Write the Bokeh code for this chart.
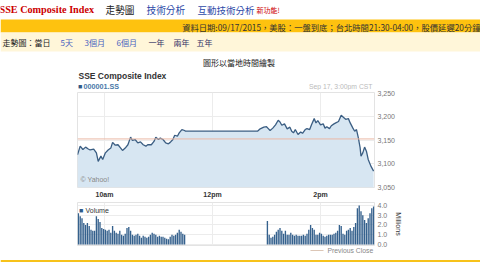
from bokeh.plotting import figure
from bokeh.models import (Range1d, Label, BoxAnnotation, Span, FixedTicker,
                          NumeralTickFormatter, ColumnDataSource)
from bokeh.embed import file_html
from bokeh.resources import INLINE

# ---------------- data ----------------
price_times = ["09:30","09:33","09:36","09:39","09:42","09:44","09:48","09:51","09:53","09:56",
               "09:58","10:01","10:04","10:07","10:09","10:12","10:15","10:18","10:20","10:23",
               "10:26","10:29","10:31","10:34","10:37","10:40","10:43","10:46","10:48","10:52",
               "10:55","10:57","11:00","11:02","11:05","11:08","11:11","11:13","11:16","11:18",
               "11:21","11:23","11:26","11:29","11:30",
               "12:50","12:53","12:57","13:00","13:02","13:04","13:07","13:10","13:13","13:15",
               "13:17","13:20","13:23","13:26","13:28","13:30","13:32","13:35","13:38","13:40",
               "13:43","13:45","13:48","13:50","13:53","13:55","13:57","14:00","14:03","14:05",
               "14:07","14:10","14:12","14:15","14:17","14:20","14:23","14:26","14:28","14:31",
               "14:33","14:36","14:38","14:40","14:42","14:44","14:45","14:47","14:49","14:51",
               "14:53","14:56","14:59"]
price_values = [3119,3137,3130,3135,3131,3129,3131,3123,3105,3116,
                3109,3123,3129,3133,3145,3139,3140,3133,3128,3133,
                3140,3156,3149,3151,3144,3146,3140,3137,3140,3140,
                3147,3156,3151,3154,3151,3144,3142,3145,3151,3160,
                3158,3165,3172,3170,3168.5,
                3168.5,3173.5,3177,3178,3174,3170,3175,3182,3191.6,3188,
                3181,3184,3173.5,3177,3168.5,3165,3172,3161.5,3167,3164,
                3172,3174,3172,3182,3195,3186,3191,3182,3184,3175,
                3178,3174,3180,3184,3186,3189,3202,3197,3193.5,3195,
                3186,3175,3168.5,3172,3155,3134,3116,3123,3135,3126.5,
                3109,3095,3084.5]
previous_close = 3152.26

vol_am = [3.2,2.9,2.7,2.2,2.0,2.2,1.9,1.5,1.4,1.4,2.9,2.6,2.3,1.7,1.6,1.5,1.4,1.5,1.2,1.9,
          1.4,1.2,1.1,1.4,1.0,0.9,1.1,1.7,1.8,1.4,1.0,0.9,1.0,1.1,0.9,0.7,0.9,0.8,0.7,0.8,
          1.0,1.2,1.1,1.0,0.8,0.9,0.8,0.8,0.7,0.6,0.55,0.8,1.0,0.9,1.0,1.2,1.5,1.3,1.1,1.0]
vol_pm = [2.4,1.0,0.7,0.8,1.0,1.3,1.5,1.7,1.4,1.1,1.4,1.0,1.0,1.2,1.0,0.9,1.0,0.9,0.9,0.9,
          1.0,0.9,1.1,1.5,2.0,1.7,1.5,1.0,1.0,1.2,1.1,0.9,0.8,0.9,1.0,1.0,1.0,1.1,1.2,1.4,
          2.0,1.9,1.1,1.0,1.4,1.5,1.7,1.4,1.8,2.2,3.7,4.0,3.4,3.0,2.5,2.2,2.7,3.2,3.7,3.9]

x_ticks = [600, 720, 840]
x_tick_labels = ["10am", "12pm", "2pm"]
price_ticks = [3050, 3100, 3150, 3200, 3250]
vol_ticks = [0, 1, 2, 3, 4]

def to_min(s):
    h, m = s.split(":")
    return int(h) * 60 + int(m)

px = [to_min(t) for t in price_times]
vol_x = [570 + 2 * i + 1 for i in range(len(vol_am))] + [780 + 2 * i + 1 for i in range(len(vol_pm))]
vol_v = vol_am + vol_pm

SANS = "Liberation Sans"
CJK = "Noto Sans CJK TC"
BLUE_LINK = "#2d4aa8"
FL, FR = 77, 374            # chart frame left / right in page pixels
BL, BR = FL, 480 - FR

def t_of_page(xp):           # page x -> minutes (for placing decorations inside the chart panels)
    return 570 + (xp - FL) * 330.0 / (FR - FL)

def bare(fig):
    fig.axis.visible = False
    fig.grid.visible = False
    fig.outline_line_color = None
    return fig

def lab(fig, x, y, text, size="7px", color="#333333", font=SANS, style="normal", align="left"):
    fig.add_layout(Label(x=x, y=y, text=text, text_font=font, text_font_size=size,
                         text_color=color, text_font_style=style, text_baseline="middle",
                         text_align=align))

def quiet_axis(ax):
    ax.axis_line_color = None
    ax.major_tick_line_color = None
    ax.minor_tick_line_color = None
    ax.major_tick_out = 0
    ax.major_tick_in = 0
    ax.minor_tick_out = 0
    ax.minor_tick_in = 0
    ax.major_label_text_font = SANS
    ax.major_label_text_font_size = "7px"
    ax.major_label_standoff = 3

# ---------------- header (page y 0..90, data = page pixels) ----------------
header = bare(figure(width=480, height=90, x_range=Range1d(0, 480), y_range=Range1d(90, 0),
                     min_border=0, toolbar_location=None, output_backend="svg"))
header.add_layout(BoxAnnotation(left=0, right=480, top=19, bottom=32, fill_color="#fec20f",
                                fill_alpha=1, line_color=None))
header.add_layout(BoxAnnotation(left=0, right=480, top=32, bottom=51, fill_color="#fff6d9",
                                fill_alpha=1, line_color=None))
lab(header, -1, 9, "SSE Composite Index", size="10.2px", color="#cc0000", font="Liberation Serif", style="bold")
lab(header, 105, 9.5, "走勢圖", size="9.7px", color="#222222", font=CJK)
lab(header, 146, 9.5, "技術分析", size="9.7px", color=BLUE_LINK, font=CJK)
lab(header, 197, 9.5, "互動技術分析", size="9.5px", color=BLUE_LINK, font=CJK)
lab(header, 256, 9, "新功能!", size="7px", color="#cc0000", font=CJK)
lab(header, 480, 26.5, "資料日期:09/17/2015，美股：一盤到底；台北時間21:30-04:00，股價延遲20分鐘",
    size="8.3px", color="#333333", font=CJK, align="right")
lab(header, 2, 42, "走勢圖：當日", size="8px", color="#222222", font=CJK)
for xx, t in [(60, "5天"), (84, "3個月"), (116, "6個月"), (148, "一年"), (173, "兩年"), (196, "五年")]:
    lab(header, xx, 42, t, size="8px", color="#4a63c0" if xx < 140 else "#333366", font=CJK)
lab(header, 238.5, 62, "圖形以當地時間繪製", size="8px", color="#222222", font=CJK, align="center")
lab(header, 78, 75.5, "SSE Composite Index", size="8.5px", color="#333333", style="bold")
lab(header, 77.5, 86, "■", size="7px", color="#2f5a87")
lab(header, 83, 86, "000001.SS", size="7.2px", color="#4a78a8", style="bold")
lab(header, 372, 86, "Sep 17, 3:00pm CST", size="6.8px", color="#bbbbbb", align="right")

# ---------------- price chart (page y 90..200) ----------------
price = figure(width=480, height=110, x_range=Range1d(570, 900), y_range=Range1d(3050, 3250),
               min_border_left=BL, min_border_right=BR, min_border_top=2, min_border_bottom=12,
               y_axis_location="right", toolbar_location=None, output_backend="svg")
price.outline_line_color = "#e3e3e3"
src = ColumnDataSource(dict(x=px, y=price_values))
price.varea(x="x", y1=3050, y2="y", source=src, fill_color="#d7e6f2")
price.add_layout(Span(location=previous_close, dimension="width", line_color="#eab9a6", line_width=1))
price.line(x="x", y="y", source=src, line_color="#3a5d82", line_width=1.3)
price.xgrid.ticker = FixedTicker(ticks=x_ticks)
price.ygrid.ticker = FixedTicker(ticks=price_ticks)
price.grid.grid_line_color = "#ececec"
price.xaxis.ticker = FixedTicker(ticks=x_ticks)
price.xaxis.major_label_overrides = dict(zip(x_ticks, x_tick_labels))
price.yaxis.ticker = FixedTicker(ticks=price_ticks)
price.yaxis.formatter = NumeralTickFormatter(format="0,0")
for ax in price.axis:
    quiet_axis(ax)
price.yaxis.major_label_text_color = "#777777"
price.xaxis.major_label_text_color = "#333333"
price.xaxis.major_label_text_font_style = "bold"
lab(price, t_of_page(80), 3067, "© Yahoo!", size="7px", color="#888888")

# ---------------- volume chart (page y 200..247) ----------------
VLO, VHI = -0.1, 4.3
vol = figure(width=480, height=47, x_range=Range1d(570, 900), y_range=Range1d(VLO, VHI),
             min_border_left=BL, min_border_right=BR, min_border_top=2, min_border_bottom=2,
             x_axis_location=None, y_axis_location="right", toolbar_location=None, output_backend="svg")
vol.outline_line_color = "#e3e3e3"
vol.vbar(x=vol_x, top=vol_v, bottom=0, width=1.5, fill_color="#35618d", line_color=None)
vol.xgrid.ticker = FixedTicker(ticks=x_ticks)
vol.ygrid.ticker = FixedTicker(ticks=vol_ticks)
vol.grid.grid_line_color = "#ececec"
vol.yaxis.ticker = FixedTicker(ticks=vol_ticks)
vol.yaxis.formatter = NumeralTickFormatter(format="0.0")
quiet_axis(vol.yaxis[0])
vol.yaxis.major_label_text_color = "#777777"
vol.yaxis.axis_label = "Millions"
vol.yaxis.axis_label_text_font = SANS
vol.yaxis.axis_label_text_font_size = "7px"
vol.yaxis.axis_label_text_font_style = "normal"
vol.yaxis.axis_label_text_color = "#333333"
vol.yaxis.axis_label_standoff = 5
lab(vol, t_of_page(78.5), 3.5, "■", size="7px", color="#2f5a87")
lab(vol, t_of_page(85), 3.5, "Volume", size="7px", color="#333333")

# ---------------- footer (page y 247..262, data = page pixels) ----------------
footer = bare(figure(width=480, height=15, x_range=Range1d(0, 480), y_range=Range1d(262, 247),
                     min_border=0, toolbar_location=None, output_backend="svg"))
footer.add_layout(BoxAnnotation(left=310, right=323, top=249.5, bottom=250.5, fill_color="#dcc6b6",
                                fill_alpha=1, line_color=None))
lab(footer, 327, 250, "Previous Close", size="6.8px", color="#888888")
footer.add_layout(BoxAnnotation(left=0, right=480, top=259.5, bottom=261.5, fill_color="#f7c21a",
                                fill_alpha=1, line_color=None))

open("out.html", "w").write(file_html([header, price, vol, footer], INLINE))
